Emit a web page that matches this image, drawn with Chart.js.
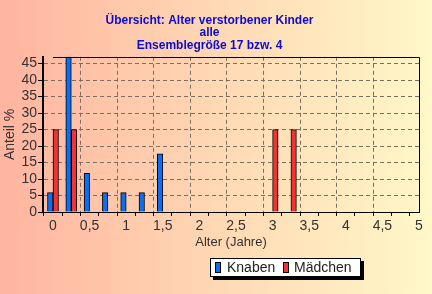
<!DOCTYPE html>
<html><head><meta charset="utf-8">
<script src="https://cdn.jsdelivr.net/npm/chart.js@4/dist/chart.umd.min.js"></script>
<style>html,body{margin:0;padding:0;background:#ffd8b8;}#wrap{width:432px;height:294px;}</style>
</head><body><div id="wrap"><canvas id="c" width="432" height="294"></canvas></div>
<script>
const ages = [0,0.25,0.5,0.75,1,1.25,1.5,1.75,2,2.25,2.5,2.75,3,3.25,3.5,3.75,4,4.25,4.5,4.75,5];
const knaben = [5.88,47.06,11.76,5.88,5.88,5.88,17.65,0,0,0,0,0,0,0,0,0,0,0,0,0,0];
const maedchen = [25,25,0,0,0,0,0,0,0,0,0,0,25,25,0,0,0,0,0,0,0];
const yTicks = [0,5,10,15,20,25,30,35,40,45];
const xTicks = [0,0.25,0.5,0.75,1,1.25,1.5,1.75,2,2.25,2.5,2.75,3,3.25,3.5,3.75,4,4.25,4.5,4.75,5];
const titleLines = ['Übersicht: Alter verstorbener Kinder','alle','Ensemblegröße 17 bzw. 4'];
const seriesNames = ['Knaben','Mädchen'];
const colors = ['#0a6ff0','#f03434'];

const fmt = v => String(v).replace('.', ',');

const bgPlugin = {
  id:'bg',
  beforeDraw(chart){
    const {ctx,width,height} = chart;
    const g = ctx.createLinearGradient(0,0,width,0);
    g.addColorStop(0,'#ffb4a0');
    g.addColorStop(0.5,'#ffd8b4');
    g.addColorStop(1,'#fff8c8');
    ctx.save(); ctx.fillStyle=g; ctx.fillRect(0,0,width,height); ctx.restore();
  },
  afterDraw(chart){
    const {ctx} = chart;
    const xs = chart.scales.x;
    const a = chart.chartArea;
    const x0 = xs.getPixelForValue(0);
    ctx.save();
    ctx.strokeStyle='#000'; ctx.lineWidth=1;
    ctx.beginPath();
    ctx.moveTo(x0, Math.round(a.top)+0.5); ctx.lineTo(Math.round(a.right)+0.5, Math.round(a.top)+0.5);
    ctx.lineTo(Math.round(a.right)+0.5, Math.round(a.bottom));
    ctx.stroke();
    // legend
    const lx=210, ly=258, lw=151, lh=19;
    ctx.fillStyle='#000'; ctx.fillRect(lx+3, ly+3, lw, lh);
    ctx.fillStyle='#fff'; ctx.fillRect(lx, ly, lw, lh);
    ctx.strokeStyle='#000'; ctx.strokeRect(lx+0.5, ly+0.5, lw-1, lh-1);
    const items = [{x:215,tx:227},{x:283,tx:294}];
    ctx.font = '14px "Liberation Sans", Arial, sans-serif';
    ctx.textBaseline='middle';
    items.forEach((it,i)=>{
      ctx.fillStyle=colors[i]; ctx.fillRect(it.x, ly+4, 6, 11);
      ctx.strokeStyle='#000'; ctx.strokeRect(it.x+0.5, ly+4.5, 5, 10);
      ctx.fillStyle='#222'; ctx.fillText(seriesNames[i], it.tx, ly+lh/2+1);
    });
    ctx.restore();
  }
};

new Chart(document.getElementById('c'), {
  type:'bar',
  data:{
    datasets:[
      {label:seriesNames[0], data:ages.map((a,i)=>({x:a,y:knaben[i]})), backgroundColor:colors[0], borderColor:'#000', borderWidth:1, barThickness:5.5},
      {label:seriesNames[1], data:ages.map((a,i)=>({x:a,y:maedchen[i]})), backgroundColor:colors[1], borderColor:'#000', borderWidth:1, barThickness:5.5}
    ]
  },
  options:{
    responsive:false, animation:false, devicePixelRatio:1,
    layout:{padding:{left:0,right:13,top:0,bottom:44}},
    plugins:{
      legend:{display:false}, tooltip:{enabled:false},
      title:{display:true, text:titleLines, color:'#0c0cd0', font:{family:'"Liberation Sans", Arial, sans-serif', size:12, weight:'bold', lineHeight:1.05}, padding:{top:14,bottom:5}}
    },
    scales:{
      x:{type:'linear', min:-0.1366, max:5, offset:false,
        afterBuildTicks(s){ s.ticks = xTicks.map(v=>({value:v})); },
        afterFit(s){ s.height = 38; },
        ticks:{autoSkip:false, maxRotation:0, padding:2, color:'#333', font:{family:'"Liberation Sans", Arial, sans-serif', size:14},
          callback:(v)=> (Math.abs(v*2-Math.round(v*2))<1e-6) ? fmt(v) : ''},
        grid:{color:(c)=>{const v=c.tick&&c.tick.value; return (v!==undefined && Math.abs(v*2-Math.round(v*2))<1e-6 && v<5) ? '#7a7060':'transparent';}, tickColor:'#000', tickLength:4, lineWidth:1},
        border:{display:true,color:'#000',width:1,dash:[4,3]},
        title:{display:true,text:'Alter (Jahre)',color:'#333',font:{family:'"Liberation Sans", Arial, sans-serif',size:13},padding:{top:0,bottom:0}}
      },
      y:{min:0, max:47.06,
        afterBuildTicks(s){ s.ticks = yTicks.map(v=>({value:v})); },
        afterFit(s){ s.width = 43; },
        ticks:{autoSkip:false, padding:1, color:'#333', font:{family:'"Liberation Sans", Arial, sans-serif', size:14}, callback:(v)=>fmt(v)},
        grid:{color:(c)=> (c.tick && c.tick.value>0) ? '#7a7060':'transparent', tickColor:'#000', tickLength:5, lineWidth:1},
        border:{display:true,color:'#000',width:2,dash:[4,3]},
        title:{display:true,text:'Anteil %',color:'#333',font:{family:'"Liberation Sans", Arial, sans-serif',size:14},padding:{top:2,bottom:0}}
      }
    }
  },
  plugins:[bgPlugin]
});
</script></body></html>
